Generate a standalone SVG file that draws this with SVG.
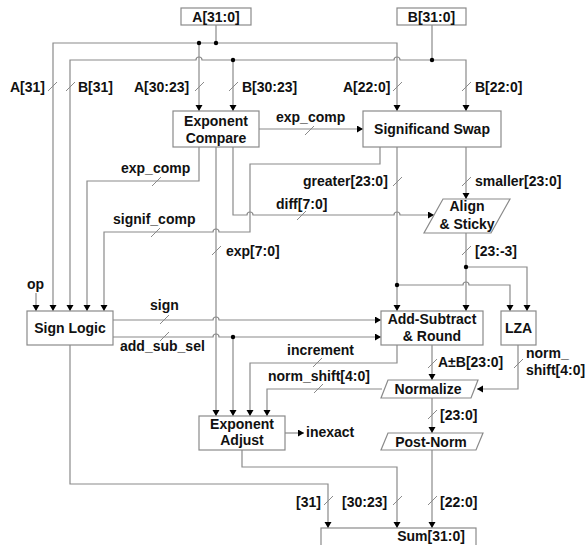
<svg xmlns="http://www.w3.org/2000/svg" width="585" height="545" viewBox="0 0 585 545">
<defs>
<marker id="ah" markerUnits="userSpaceOnUse" markerWidth="8" markerHeight="8" refX="6" refY="3.5" orient="auto">
<path d="M0,0 L6,3.5 L0,7 z" fill="#000"/>
</marker>
<style>
.box{fill:#fff;stroke:#8a8a8a;stroke-width:1.2}
.w{fill:none;stroke:#8a8a8a;stroke-width:1.2}
.a{marker-end:url(#ah)}
.s{stroke:#8a8a8a;stroke-width:1}
text{font-family:"Liberation Sans",Arial,sans-serif;font-weight:bold;font-size:14px;fill:#111}
.c{text-anchor:middle}
.d{fill:#000}
</style>
</defs>
<rect width="585" height="545" fill="#fff"/>
<g id="connectors">
<path class="w" d="M216,25 V43"/>
<path class="w a" d="M216,43 H53 V311"/>
<path class="w a" d="M216,43 H397 V111"/>
<path class="w a" d="M199,43 V111"/>
<path class="w" d="M432,25 V60"/>
<path class="w a" d="M432,60 H400 A3,3 0 0 0 394,60 H202 A3,3 0 0 0 196,60 H70 V311"/>
<path class="w a" d="M432,60 H466 V111"/>
<path class="w a" d="M233,60 V111"/>
<path class="w a" d="M259,129 H363"/>
<path class="w a" d="M199,147 V181 H87 V311"/>
<path class="w a" d="M216,147 V416"/>
<path class="w a" d="M233,147 V215 H247 A3,3 0 0 1 253,215 H394 A3,3 0 0 1 400,215 H434"/>
<path class="w a" d="M380,147 V164 H250 V232 H219 A3,3 0 0 0 213,232 H104 V311"/>
<path class="w a" d="M397,147 V311"/>
<path class="w a" d="M397,285 H463 A3,3 0 0 1 469,285 H510 V311"/>
<path class="w a" d="M466,147 V199"/>
<path class="w a" d="M466,233 V311"/>
<path class="w a" d="M466,267 H527 V311"/>
<path class="w a" d="M36,293 V311"/>
<path class="w a" d="M113,320 H213 A3,3 0 0 1 219,320 H381"/>
<path class="w a" d="M113,337 H213 A3,3 0 0 1 219,337 H381"/>
<path class="w a" d="M233,337 V416"/>
<path class="w a" d="M397,345 V363 H250 V416"/>
<path class="w a" d="M432,345 V380"/>
<path class="w a" d="M518,345 V389 H477"/>
<path class="w a" d="M382,389 H267 V416"/>
<path class="w a" d="M432,398 V433"/>
<path class="w a" d="M285,433 H304"/>
<path class="w a" d="M432,450 V528"/>
<path class="w a" d="M242,450 V467 H397 V528"/>
<path class="w a" d="M70,345 V484 H328 V528"/>
<g class="d">
<circle cx="199" cy="43" r="2.2"/>
<circle cx="216" cy="43" r="2.2"/>
<circle cx="432" cy="60" r="2.2"/>
<circle cx="233" cy="60" r="2.2"/>
<circle cx="466" cy="267" r="2.2"/>
<circle cx="397" cy="285" r="2.2"/>
<circle cx="233" cy="337" r="2.2"/>
</g>
<g class="s">
<line x1="48" y1="91" x2="57" y2="82"/>
<line x1="66" y1="91" x2="75" y2="82"/>
<line x1="195" y1="91" x2="204" y2="82"/>
<line x1="229" y1="91" x2="238" y2="82"/>
<line x1="393" y1="91" x2="402" y2="82"/>
<line x1="462" y1="91" x2="471" y2="82"/>
<line x1="305" y1="135" x2="314" y2="126"/>
<line x1="152" y1="186" x2="161" y2="177"/>
<line x1="393" y1="186" x2="402" y2="177"/>
<line x1="462" y1="186" x2="471" y2="177"/>
<line x1="297" y1="220" x2="306" y2="211"/>
<line x1="151" y1="237" x2="160" y2="228"/>
<line x1="212" y1="255" x2="221" y2="246"/>
<line x1="462" y1="255" x2="471" y2="246"/>
<line x1="160" y1="324" x2="169" y2="315"/>
<line x1="160" y1="341" x2="169" y2="332"/>
<line x1="313" y1="367" x2="322" y2="358"/>
<line x1="428" y1="368" x2="437" y2="359"/>
<line x1="514" y1="368" x2="523" y2="359"/>
<line x1="314" y1="393" x2="323" y2="384"/>
<line x1="428" y1="419" x2="437" y2="410"/>
<line x1="324" y1="505" x2="333" y2="496"/>
<line x1="393" y1="505" x2="402" y2="496"/>
<line x1="428" y1="505" x2="437" y2="496"/>
</g>
</g>
<g id="labels">
<text x="10" y="92">A[31]</text>
<text x="78" y="92">B[31]</text>
<text x="134" y="92">A[30:23]</text>
<text x="242" y="92">B[30:23]</text>
<text x="343" y="92">A[22:0]</text>
<text x="475" y="92">B[22:0]</text>
<text x="276" y="122">exp_comp</text>
<text x="121" y="173">exp_comp</text>
<text x="303" y="186">greater[23:0]</text>
<text x="475" y="186">smaller[23:0]</text>
<text x="276" y="209">diff[7:0]</text>
<text x="113" y="224">signif_comp</text>
<text x="226" y="256">exp[7:0]</text>
<text x="475" y="256">[23:-3]</text>
<text x="27" y="289">op</text>
<text x="150" y="310">sign</text>
<text x="120" y="351">add_sub_sel</text>
<text x="287" y="355">increment</text>
<text x="438" y="367">A±B[23:0]</text>
<text x="526" y="358">norm_</text>
<text x="526" y="375">shift[4:0]</text>
<text x="268" y="381">norm_shift[4:0]</text>
<text x="440" y="420">[23:0]</text>
<text x="306" y="437">inexact</text>
<text x="296" y="507">[31]</text>
<text x="342" y="507">[30:23]</text>
<text x="440" y="507">[22:0]</text>
</g>
<g id="A">
<rect class="box" x="181" y="8" width="70" height="17"/>
<text class="c" x="216" y="22">A[31:0]</text>
</g>
<g id="B">
<rect class="box" x="397" y="8" width="69" height="17"/>
<text class="c" x="431.5" y="22">B[31:0]</text>
</g>
<g id="exponent-compare">
<rect class="box" x="173" y="111" width="86" height="36"/>
<text class="c" x="216" y="126">Exponent</text>
<text class="c" x="216" y="142.5">Compare</text>
</g>
<g id="significand-swap">
<rect class="box" x="363" y="111" width="138" height="36"/>
<text class="c" x="432" y="134">Significand Swap</text>
</g>
<g id="align-sticky">
<path class="box" d="M443,199 H510 L491,233 H424 Z"/>
<text class="c" x="467" y="211">Align</text>
<text class="c" x="467" y="229">&amp; Sticky</text>
</g>
<g id="sign-logic">
<rect class="box" x="27" y="311" width="86" height="34"/>
<text class="c" x="70" y="333">Sign Logic</text>
</g>
<g id="add-subtract">
<rect class="box" x="381" y="311" width="102" height="34"/>
<text class="c" x="432" y="324">Add-Subtract</text>
<text class="c" x="432" y="341">&amp; Round</text>
</g>
<g id="lza">
<rect class="box" x="501" y="311" width="35" height="34"/>
<text class="c" x="518.5" y="333">LZA</text>
</g>
<g id="normalize">
<path class="box" d="M388,380 H478 L471,398 H381 Z"/>
<text class="c" x="428" y="394">Normalize</text>
</g>
<g id="exponent-adjust">
<rect class="box" x="199" y="416" width="86" height="34"/>
<text class="c" x="242" y="428.5">Exponent</text>
<text class="c" x="242" y="445">Adjust</text>
</g>
<g id="post-norm">
<path class="box" d="M388,433 H483 L476,450 H381 Z"/>
<text class="c" x="431" y="447">Post-Norm</text>
</g>
<g id="sum">
<rect class="box" x="321" y="528" width="155" height="22"/>
<text class="c" x="431" y="541">Sum[31:0]</text>
</g>
</svg>
